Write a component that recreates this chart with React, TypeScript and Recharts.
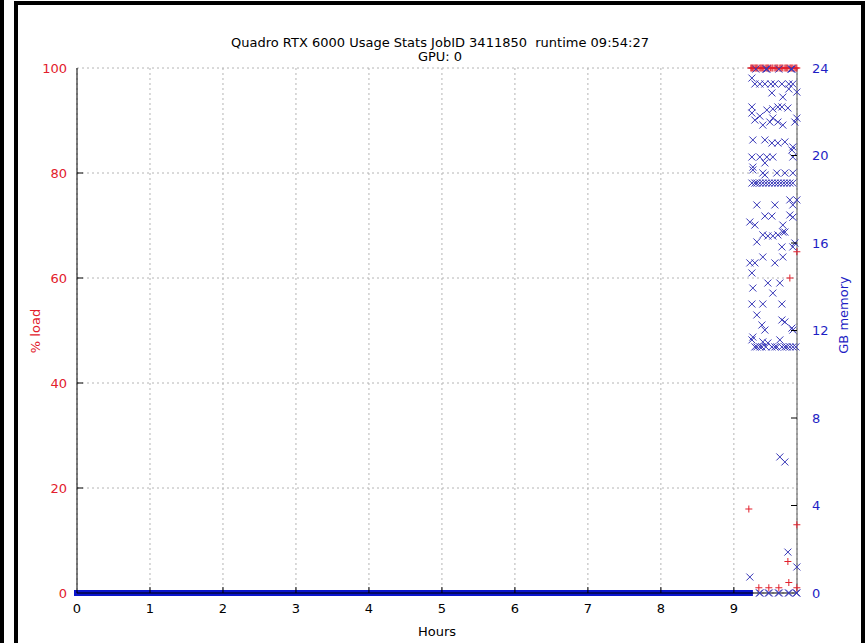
import React from 'react';
import { ComposedChart, Scatter, Line, XAxis, YAxis, CartesianGrid } from 'recharts';

const RED = '#e2202c';
const BLUE = '#1e1ec4';
const MARK_BLUE = '#3838b8';
const FONT = '"DejaVu Sans", sans-serif';

const TITLE = 'Quadro RTX 6000 Usage Stats JobID 3411850\u00a0 runtime 09:54:27';
const SUBTITLE = 'GPU: 0';
const X_LABEL = 'Hours';
const LEFT_LABEL = '% load';
const RIGHT_LABEL = 'GB memory';

const hourTicks = [0, 1, 2, 3, 4, 5, 6, 7, 8, 9];
const loadTicks = [0, 20, 40, 60, 80, 100];
const memTicks = [0, 4, 8, 12, 16, 20, 24];
const X_MAX = 9.865;

// long idle period: memory 0 GB, load 0 %
const idleMem = [
  { x: 0, y: 0 },
  { x: 9.22, y: 0 },
];

// [hours, % load]
const loadPoints: [number, number][] = [
  [9.233, 100], [9.245, 100], [9.258, 100], [9.274, 100], [9.29, 100], [9.303, 100], [9.315, 100], [9.33, 100],
  [9.356, 100], [9.37, 100], [9.384, 100], [9.397, 100], [9.412, 100], [9.438, 100], [9.452, 100], [9.465, 100],
  [9.479, 100], [9.5, 100], [9.521, 100], [9.535, 100], [9.562, 100], [9.576, 100], [9.59, 100], [9.603, 100],
  [9.63, 100], [9.644, 100], [9.658, 100], [9.672, 100], [9.699, 100], [9.713, 100], [9.726, 100],
  [9.740, 100], [9.768, 100], [9.781, 100], [9.795, 100], [9.81, 100], [9.836, 100], [9.85, 100], [9.863, 100],
  [9.205, 16], [9.767, 60], [9.863, 65], [9.863, 13], [9.740, 6], [9.753, 2],
  [9.342, 1], [9.479, 1], [9.616, 1], [9.863, 1],
];

// [hours, GB memory]
const memPoints: [number, number][] = [
  [9.301, 23.95], [9.438, 23.95], [9.452, 23.95], [9.616, 23.95], [9.781, 23.95], [9.795, 23.95],
  [9.247, 23.54],
  [9.288, 23.27], [9.356, 23.27], [9.425, 23.27], [9.507, 23.27], [9.562, 23.27], [9.658, 23.27], [9.753, 23.27], [9.808, 23.27],
  [9.521, 22.86], [9.671, 22.67], [9.753, 23.04], [9.863, 22.9],
  [9.247, 22.22], [9.452, 22.08], [9.534, 22.13], [9.603, 22.22], [9.658, 22.22], [9.740, 22.17],
  [9.247, 21.94], [9.288, 21.62], [9.356, 21.8], [9.397, 21.39], [9.493, 21.53], [9.534, 21.71],
  [9.603, 21.53], [9.671, 21.39], [9.836, 21.53], [9.863, 21.71],
  [9.260, 20.71], [9.425, 20.71], [9.521, 20.57], [9.603, 20.57], [9.699, 20.62], [9.808, 20.39], [9.795, 20.25],
  [9.247, 19.93], [9.356, 19.93], [9.452, 19.93], [9.534, 19.93], [9.808, 19.93],
  [9.260, 19.47], [9.425, 19.66], [9.260, 19.34], [9.397, 19.2], [9.589, 19.2], [9.699, 19.2], [9.808, 19.2], [9.425, 19.11],
  [9.247, 18.74], [9.288, 18.74], [9.315, 18.74], [9.356, 18.74], [9.397, 18.74], [9.438, 18.74], [9.479, 18.74],
  [9.521, 18.74], [9.562, 18.74], [9.603, 18.74], [9.644, 18.74], [9.685, 18.74], [9.726, 18.74], [9.767, 18.74], [9.808, 18.74],
  [9.315, 17.74], [9.562, 17.74], [9.767, 17.97], [9.808, 17.74], [9.863, 17.97],
  [9.425, 17.23], [9.521, 17.23], [9.767, 17.28], [9.808, 17.18],
  [9.219, 16.96], [9.288, 16.82], [9.671, 16.82], [9.699, 16.5],
  [9.397, 16.37], [9.466, 16.32], [9.534, 16.32], [9.603, 16.37], [9.671, 16.5],
  [9.315, 16.05], [9.658, 15.82], [9.808, 15.82], [9.836, 16.0],
  [9.219, 15.09], [9.288, 15.09], [9.397, 15.36], [9.562, 15.09], [9.671, 15.36],
  [9.247, 14.63],
  [9.466, 14.17], [9.630, 14.17],
  [9.260, 13.94],
  [9.534, 13.71],
  [9.247, 13.21], [9.397, 13.21], [9.658, 13.21],
  [9.315, 12.71],
  [9.384, 12.25], [9.425, 12.02],
  [9.658, 12.48], [9.699, 12.39], [9.795, 12.11], [9.808, 12.02],
  [9.260, 11.7],
  [9.247, 11.57], [9.630, 11.57], [9.397, 11.48], [9.466, 11.43],
  [9.288, 11.25], [9.315, 11.25], [9.356, 11.25], [9.384, 11.25], [9.438, 11.25], [9.521, 11.25], [9.562, 11.25],
  [9.589, 11.25], [9.658, 11.25], [9.699, 11.25], [9.726, 11.25], [9.767, 11.25], [9.808, 11.25], [9.849, 11.25],
  [9.630, 6.22], [9.699, 5.99],
  [9.740, 1.87], [9.863, 1.19], [9.219, 0.73],
  [9.350, 0], [9.360, 0], [9.473, 0], [9.485, 0], [9.610, 0], [9.622, 0], [9.747, 0], [9.759, 0], [9.855, 0], [9.863, 0],
];

const loadData = loadPoints.map(([x, y]) => ({ x, y }));
const memData = memPoints.map(([x, y]) => ({ x, y }));

const MarkPlus = (props: any) => {
  const { cx, cy } = props;
  if (cx == null || cy == null) return null;
  const s = 3.5;
  return (
    <path
      d={`M${cx - s},${cy}L${cx + s},${cy}M${cx},${cy - s}L${cx},${cy + s}`}
      stroke={RED}
      strokeWidth={1}
      fill="none"
    />
  );
};

const MarkCross = (props: any) => {
  const { cx, cy } = props;
  if (cx == null || cy == null) return null;
  const s = 3.5;
  return (
    <path
      d={`M${cx - s},${cy - s}L${cx + s},${cy + s}M${cx - s},${cy + s}L${cx + s},${cy - s}`}
      stroke={MARK_BLUE}
      strokeWidth={1}
      fill="none"
    />
  );
};

const LeftTick = (props: any) => {
  const { x, y, payload } = props;
  const ax = x + 10;
  const v = payload.value;
  return (
    <g>
      {v !== 0 && v !== 100 && <line x1={ax} x2={ax + 6} y1={y} y2={y} stroke="#000" />}
      <text x={x} y={y} dy="0.36em" textAnchor="end" fill={RED} fontSize={13} fontFamily={FONT}>
        {v}
      </text>
    </g>
  );
};

const RightTick = (props: any) => {
  const { x, y, payload } = props;
  const ax = x - 15;
  const v = payload.value;
  return (
    <g>
      {v !== 0 && v !== 24 && <line x1={ax - 6} x2={ax} y1={y} y2={y} stroke="#000" />}
      <text x={x} y={y} dy="0.36em" textAnchor="start" fill={BLUE} fontSize={13} fontFamily={FONT}>
        {v}
      </text>
    </g>
  );
};

const BottomTick = (props: any) => {
  const { x, y, payload } = props;
  const ay = y - 15;
  const v = payload.value;
  return (
    <g>
      {v !== 0 && <line x1={x} x2={x} y1={ay} y2={ay - 6} stroke="#000" />}
      <text x={x} y={y} dy="0.36em" textAnchor="middle" fill="#000" fontSize={13} fontFamily={FONT}>
        {v}
      </text>
    </g>
  );
};

const TopTick = (props: any) => {
  const { x, y, payload } = props;
  const v = payload.value;
  if (v === 0) return null;
  return <line x1={x} x2={x} y1={y} y2={y + 6} stroke="#000" />;
};

const bar = (s: React.CSSProperties): React.CSSProperties => ({ position: 'absolute', background: '#000', ...s });

export default function App() {
  return (
    <div style={{ position: 'fixed', left: 0, top: 0, width: 865, height: 643, background: '#fff', overflow: 'hidden' }}>
      <ComposedChart
        width={865}
        height={643}
        margin={{ top: 68, right: 18, bottom: 20, left: 17 }}
        style={{ position: 'absolute', left: 0, top: 0 }}
      >
        <CartesianGrid
          xAxisId="bottom"
          yAxisId="left"
          stroke="#b4b4b4"
          strokeDasharray="2 3"
        />
        <XAxis
          xAxisId="bottom"
          type="number"
          dataKey="x"
          domain={[0, X_MAX]}
          ticks={hourTicks}
          height={30}
          tickSize={0}
          tickMargin={15}
          tickLine={false}
          axisLine={{ stroke: '#000' }}
          tick={<BottomTick />}
          interval={0}
        />
        <XAxis
          xAxisId="top"
          orientation="top"
          type="number"
          dataKey="x"
          domain={[0, X_MAX]}
          ticks={hourTicks}
          height={0}
          tickSize={0}
          tickMargin={0}
          tickLine={false}
          axisLine={{ stroke: '#000' }}
          tick={<TopTick />}
          interval={0}
        />
        <YAxis
          yAxisId="left"
          type="number"
          domain={[0, 100]}
          ticks={loadTicks}
          width={60}
          tickSize={0}
          tickMargin={10}
          tickLine={false}
          axisLine={{ stroke: '#000' }}
          tick={<LeftTick />}
          interval={0}
        />
        <YAxis
          yAxisId="right"
          orientation="right"
          type="number"
          domain={[0, 24]}
          ticks={memTicks}
          width={50}
          tickSize={0}
          tickMargin={15}
          tickLine={false}
          axisLine={{ stroke: '#555' }}
          tick={<RightTick />}
          interval={0}
        />
        <Line
          xAxisId="bottom"
          yAxisId="right"
          data={idleMem}
          dataKey="y"
          stroke="#0a14cc"
          strokeWidth={6}
          strokeLinecap="square"
          dot={false}
          activeDot={false}
          isAnimationActive={false}
        />
        <Scatter
          xAxisId="bottom"
          yAxisId="left"
          data={loadData}
          dataKey="y"
          shape={<MarkPlus />}
          isAnimationActive={false}
        />
        <Scatter
          xAxisId="bottom"
          yAxisId="right"
          data={memData}
          dataKey="y"
          shape={<MarkCross />}
          isAnimationActive={false}
        />
      </ComposedChart>
      <svg width={865} height={643} style={{ position: 'absolute', left: 0, top: 0, pointerEvents: 'none' }}>
        <text x={440} y={47} textAnchor="middle" fontSize={13} fontFamily={FONT} fill="#000">{TITLE}</text>
        <text x={440} y={61} textAnchor="middle" fontSize={13} fontFamily={FONT} fill="#000">{SUBTITLE}</text>
        <text x={437} y={636} textAnchor="middle" fontSize={13} fontFamily={FONT} fill="#000">{X_LABEL}</text>
        <text transform="translate(40,331) rotate(-90)" textAnchor="middle" fontSize={13} fontFamily={FONT} fill={RED}>{LEFT_LABEL}</text>
        <text transform="translate(848,315) rotate(-90)" textAnchor="middle" fontSize={13} fontFamily={FONT} fill={BLUE}>{RIGHT_LABEL}</text>
      </svg>
      <div style={bar({ left: 0, top: 0, width: 4, height: 643 })} />
      <div style={bar({ left: 14, top: 1, width: 4, height: 642 })} />
      <div style={bar({ left: 14, top: 1, width: 851, height: 4 })} />
      <div style={bar({ left: 861, top: 1, width: 4, height: 642 })} />
    </div>
  );
}
